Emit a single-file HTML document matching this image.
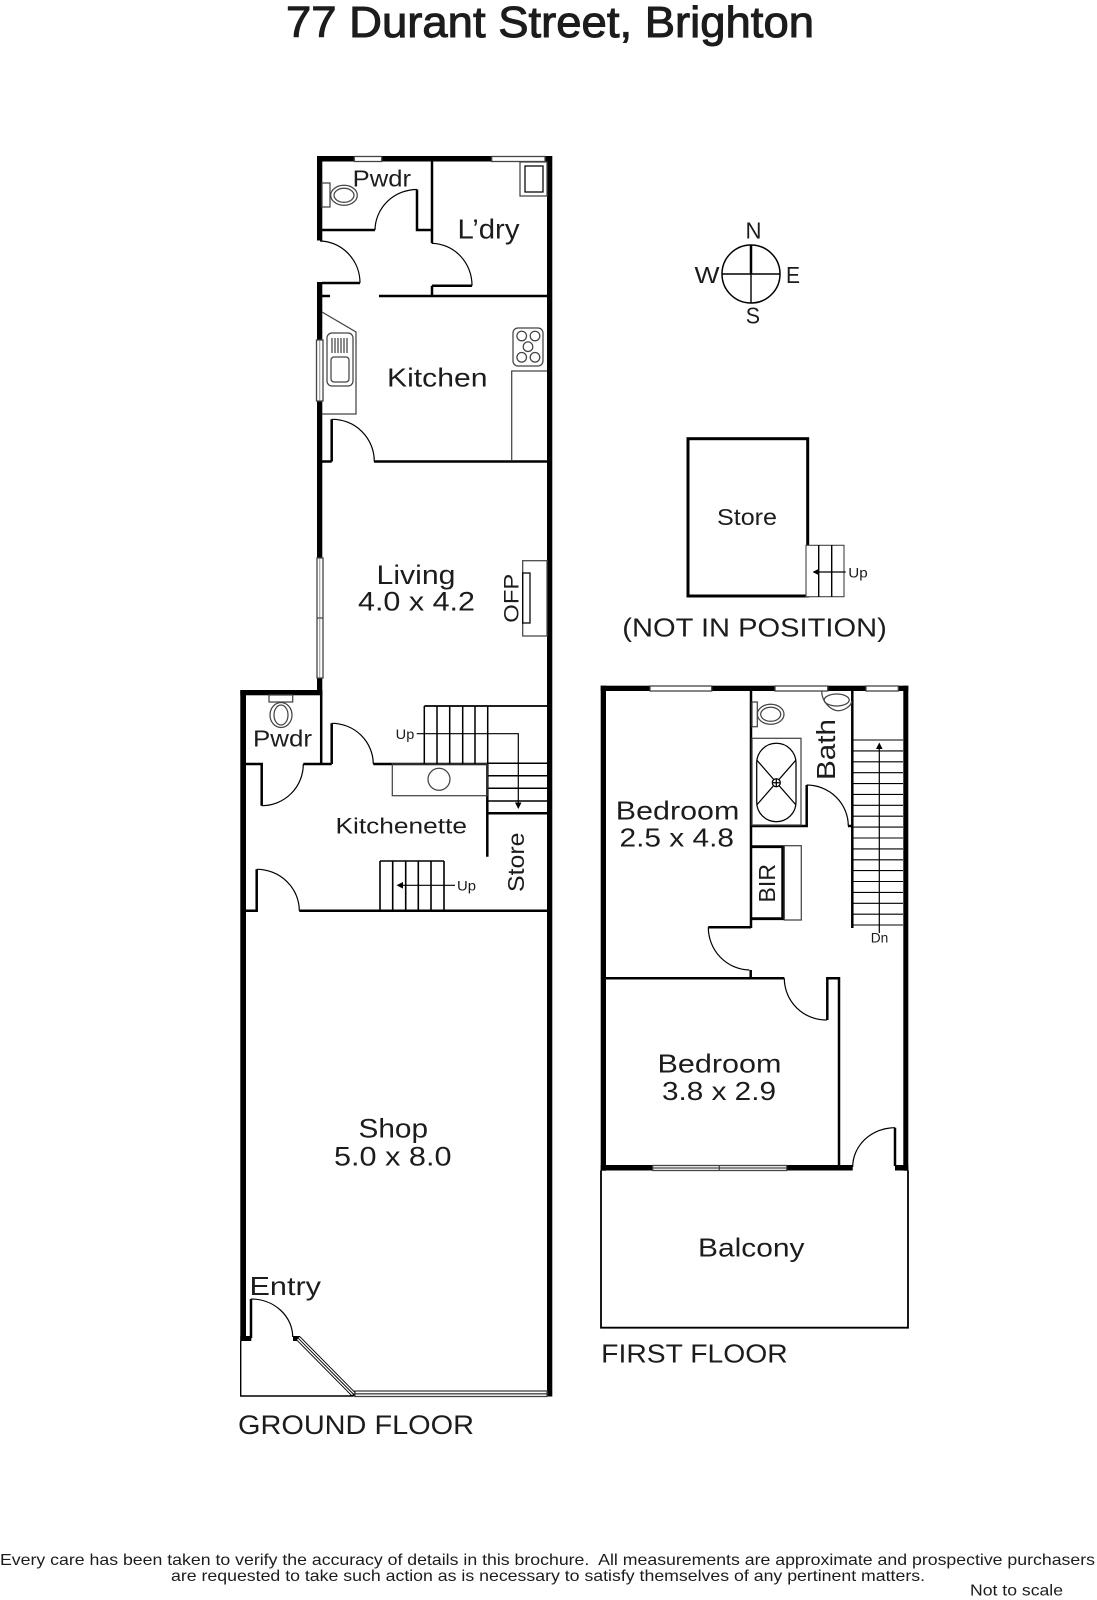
<!DOCTYPE html>
<html><head><meta charset="utf-8"><title>77 Durant Street, Brighton</title>
<style>
html,body{margin:0;padding:0;background:#fff;width:1097px;height:1600px;overflow:hidden}
svg{display:block}
text{font-family:"Liberation Sans",sans-serif;fill:#1c1c1c}
.w{fill:#000;stroke:none}
.l{fill:none;stroke:#000;stroke-width:1.2}
.m{fill:none;stroke:#000;stroke-width:2.5}
.g{fill:none;stroke:#444;stroke-width:1.25}
.win{fill:#fff;stroke:#444;stroke-width:1.3}
</style></head><body>
<svg width="1097" height="1600" viewBox="0 0 1097 1600" xmlns="http://www.w3.org/2000/svg">
<rect width="1097" height="1600" fill="#fff"/>

<text x="286" y="36.8" font-size="44" textLength="528" lengthAdjust="spacingAndGlyphs" stroke="#1c1c1c" stroke-width="1">77 Durant Street, Brighton</text>

<!-- GROUND FLOOR walls -->
<g class="w">
<rect x="317" y="156" width="235" height="5.5"/>
<rect x="317" y="156" width="5.3" height="84.5"/>
<rect x="317" y="282" width="5.3" height="408"/>
<rect x="547" y="156" width="5.3" height="1240.5"/>
<rect x="240.3" y="690" width="82" height="5.3"/>
<rect x="240.3" y="690" width="5.7" height="651"/>
<rect x="240.3" y="1336" width="11" height="5"/>
<rect x="293" y="1336" width="7" height="5"/>
<polygon points="351,1392 355,1390.5 355,1396.5 350,1396.5"/>
</g>
<g class="m">
<path d="M432 161V243M322 230H375M417 189.5V230H432"/>
<path d="M322 283H360M322 296H330M379 296H547M432 285.7H472M432 285.7V296"/>
<path d="M331.7 419.3V461.5M322 461.5H331.7M374 461.5H547"/>
<path d="M321.2 690V764H331.7M331.7 723.3V764M373.3 764H487M246 764H261.7V805.7M303.3 764H322"/>
<path d="M487.3 764V856.7M487.3 813.3H547"/>
<path d="M246 910.7H256.7V869.3M299.3 910.7H547"/>
<path d="M251 1299V1338"/>
</g>
<g class="l" stroke-width="1.3">
<path d="M375 230A42 41 0 0 1 417 189.5"/>
<path d="M320 241A41 42 0 0 1 360 283"/>
<path d="M431.7 243.3A41 42 0 0 1 472 285.7"/>
<path d="M331.7 419.3A42 42 0 0 1 374.3 461.7"/>
<path d="M331.7 723.3A41.5 41 0 0 1 373.3 764"/>
<path d="M261.7 805.7A41.5 41.5 0 0 0 303.3 764"/>
<path d="M256.7 869.3A42.5 41.5 0 0 1 299.3 910.7"/>
<path d="M251 1299A41.7 38 0 0 1 292.7 1337"/>
</g>

<!-- windows ground -->
<g class="win">
<rect x="354.3" y="156.5" width="27.4" height="5"/>
<rect x="491.7" y="156.5" width="53.3" height="5"/>
<rect x="316.5" y="340" width="6.5" height="61"/>
<rect x="317" y="558" width="6" height="120"/>
<path d="M317 618H323"/>
<rect x="355" y="1391" width="192" height="5.5"/>
<path d="M355 1393.8H547"/>
</g>
<path d="M319.8 340V401" stroke="#777" stroke-width=".8" fill="none"/>
<path d="M319.8 558V678" stroke="#777" stroke-width=".8" fill="none"/>
<path d="M298.3 1338.3L353.3 1394" stroke="#000" stroke-width="5.5"/>
<path d="M298.3 1338.3L353.3 1394" stroke="#fff" stroke-width="3.6"/>
<path d="M298.3 1338.3L353.3 1394" stroke="#000" stroke-width=".9"/>
<path d="M240.7 1341V1396H353" class="l" style="stroke-width:1.4"/>

<!-- fixtures ground -->
<g class="g">
<rect x="322" y="183" width="8" height="24"/>
<ellipse cx="344" cy="195.3" rx="13.3" ry="10"/>
<ellipse cx="344" cy="195.3" rx="10" ry="7"/>
<rect x="520" y="162" width="27" height="34"/>
<rect x="525" y="166" width="18" height="26" style="stroke:#000"/>
<path d="M322 312L356 332V414H322"/>
<rect x="327" y="333" width="26" height="53" rx="5"/>
<rect x="331" y="357" width="18" height="25" rx="3"/>
<path d="M332 338V353M335 338V353M338 338V353M341 338V353M344 338V353M347 338V353"/>
<rect x="513" y="328" width="30" height="38" rx="5"/>
<circle cx="521.7" cy="336" r="4.8"/><circle cx="535" cy="336" r="4.8"/><circle cx="528" cy="346.7" r="4.8"/><circle cx="521.7" cy="357.3" r="4.8"/><circle cx="535" cy="357.3" r="4.8"/>
<path d="M547 371H511.7V461"/>
<rect x="522.7" y="560.7" width="24.3" height="75.3"/>
<rect x="522.7" y="573" width="7.3" height="50" style="stroke:#000"/>
<rect x="269" y="695" width="23.7" height="7"/>
<ellipse cx="281" cy="715" rx="11" ry="12.5"/>
<ellipse cx="281" cy="715" rx="7" ry="10"/>
<rect x="392.3" y="764" width="94.7" height="31.7"/>
<circle cx="439" cy="779.3" r="11"/>
</g>

<!-- stairs ground -->
<path d="M424.3 706H547" class="m" style="stroke-width:1.8"/>
<path d="M424.3 706V764M437 706V764M449.7 706V764M462.7 706V764M475 706V764M487.7 706V764M488 763.3H547M488 775.7H547M488 788.3H547M488 801H547" class="l" style="stroke-width:1.5"/>
<path d="M416.7 733.7H518.3V806" class="l"/>
<polygon points="515,802.5 521.5,802.5 518.3,809"/>
<path d="M380 861H444M380 861V911M392.7 861V911M405.7 861V911M418.3 861V911M431 861V911M444 861V911" class="l" style="stroke-width:1.6"/>
<path d="M455 885.3H400" class="l"/>
<polygon points="396.5,885.3 403,882 403,888.6"/>

<!-- FIRST FLOOR walls -->
<g class="w">
<rect x="600.7" y="685.7" width="307.6" height="5.3"/>
<rect x="600.7" y="685.7" width="5.3" height="485"/>
<rect x="903.3" y="685.7" width="5" height="485"/>
<rect x="600.7" y="1165" width="252" height="5.5"/>
<rect x="895" y="1165" width="13.3" height="5.5"/>
</g>
<g class="m">
<path d="M751 691V928M708.3 927.3H751M750.7 970V978.3M606 978.3H784.3M827.3 1020V978.3H839V1165"/>
<path d="M852.3 691V928M752 826H806.7V785M848 826H852.3"/>
<path d="M751 846.7H782.7V918.7H751" style="stroke-width:2.8"/>
<path d="M895 1127.7V1166"/>
</g>
<g class="l" stroke-width="1.3">
<path d="M708.3 927.3A42 42.7 0 0 0 749.3 970"/>
<path d="M784.3 978.3A42 41.7 0 0 0 826.7 1020"/>
<path d="M806.7 785A41.7 41 0 0 1 848.3 826"/>
<path d="M852.7 1167A42.3 39.3 0 0 1 895 1127.7"/>
</g>
<g class="win">
<rect x="650" y="686" width="61.7" height="5"/>
<rect x="775" y="686" width="52.7" height="5"/>
<rect x="866" y="686" width="32.3" height="5"/>
<rect x="652.7" y="1165.5" width="134" height="5"/>
<path d="M652.7 1168H786.7M719.3 1165.5V1170.5"/>
</g>
<path d="M601 1170.5V1327.7H908V1170.5" class="l" style="stroke-width:1.8"/>
<g class="g">
<rect x="752" y="702" width="5.3" height="24.7"/>
<ellipse cx="770.7" cy="714.3" rx="13.3" ry="10"/>
<ellipse cx="770.7" cy="714.3" rx="10" ry="7"/>
<path d="M821.7 691C821.7 703 832 710.7 838 710.7C844 710.7 851.7 706 851.7 701"/>
<ellipse cx="836.7" cy="700" rx="12.5" ry="6"/>
<rect x="752" y="738.3" width="49" height="86.7"/>
<rect x="756.7" y="743.3" width="39.3" height="78.4" rx="19.6" style="stroke:#000"/>
<path d="M756.7 760L796 805M796 760L756.7 805" style="stroke:#000"/>
<circle cx="776.3" cy="782.7" r="4" style="stroke:#000;fill:#fff"/>
<path d="M772.3 782.7H780.3M776.3 778.7V786.7" style="stroke:#000"/>
<rect x="784.3" y="845.7" width="17" height="74.3"/>
</g>
<path d="M853 740H903M853 750.9H903M853 761.8H903M853 772.7H903M853 783.6H903M853 794.4H903M853 805.3H903M853 816.2H903M853 827.1H903M853 838H903M853 848.9H903M853 859.8H903M853 870.6H903M853 881.5H903M853 892.4H903M853 903.3H903M853 914.2H903M853 925H903" class="l" style="stroke-width:1.1"/>
<path d="M879.3 933V748" class="l"/>
<polygon points="879.3,742.5 876,749 882.6,749"/>

<!-- Store -->
<rect x="688" y="438.7" width="119.7" height="157.3" fill="none" stroke="#000" stroke-width="3"/>
<rect x="806" y="545.3" width="38" height="51.4" fill="#fff" stroke="#444" stroke-width="1.1"/>
<path d="M818.7 545.3V596.7M831.7 545.3V596.7" class="l" style="stroke-width:1.4"/>
<path d="M845.7 572H816" class="l"/>
<polygon points="812.5,572 819,568.7 819,575.3"/>

<!-- Compass -->
<circle cx="751" cy="274" r="29" class="l" style="stroke-width:1.5"/>
<path d="M722 274H780M751 245V303" class="l" style="stroke-width:1.4"/>
<path d="M751 245V274" class="m"/>

<!-- Labels -->
<g>
<text x="352.7" y="186.7" font-size="23.5" textLength="58.3" lengthAdjust="spacingAndGlyphs">Pwdr</text>
<text x="457.5" y="238.3" font-size="28" textLength="62" lengthAdjust="spacingAndGlyphs">L’dry</text>
<text x="387" y="386.7" font-size="26" textLength="100.5" lengthAdjust="spacingAndGlyphs">Kitchen</text>
<text x="376.5" y="584" font-size="26.5" textLength="79" lengthAdjust="spacingAndGlyphs">Living</text>
<text x="358" y="610.7" font-size="26.5" textLength="117" lengthAdjust="spacingAndGlyphs">4.0 x 4.2</text>
<text x="253" y="746.7" font-size="23.5" textLength="59" lengthAdjust="spacingAndGlyphs">Pwdr</text>
<text x="335.5" y="833.3" font-size="22.5" textLength="131.5" lengthAdjust="spacingAndGlyphs">Kitchenette</text>
<text x="395.7" y="739" font-size="13.5" textLength="18.6" lengthAdjust="spacingAndGlyphs">Up</text>
<text x="457" y="890.7" font-size="13.5" textLength="19" lengthAdjust="spacingAndGlyphs">Up</text>
<text x="358.5" y="1137.7" font-size="26.5" textLength="69.5" lengthAdjust="spacingAndGlyphs">Shop</text>
<text x="334" y="1165.7" font-size="26.5" textLength="117.5" lengthAdjust="spacingAndGlyphs">5.0 x 8.0</text>
<text x="249.5" y="1295" font-size="26" textLength="71.5" lengthAdjust="spacingAndGlyphs">Entry</text>
<text x="238" y="1434" font-size="26.5" textLength="236" lengthAdjust="spacingAndGlyphs">GROUND FLOOR</text>
<text transform="translate(518.5,622.7) rotate(-90)" font-size="21.5" textLength="49" lengthAdjust="spacingAndGlyphs">OFP</text>
<text transform="translate(524,892) rotate(-90)" font-size="23.5" textLength="59.5" lengthAdjust="spacingAndGlyphs">Store</text>
<text transform="translate(835,780) rotate(-90)" font-size="25.5" textLength="61" lengthAdjust="spacingAndGlyphs">Bath</text>
<text transform="translate(775,902.5) rotate(-90)" font-size="23" textLength="38.5" lengthAdjust="spacingAndGlyphs">BIR</text>
<text x="615.8" y="819.3" font-size="26" textLength="123.5" lengthAdjust="spacingAndGlyphs">Bedroom</text>
<text x="619.5" y="846.7" font-size="26" textLength="114.5" lengthAdjust="spacingAndGlyphs">2.5 x 4.8</text>
<text x="657.5" y="1072.7" font-size="26" textLength="124" lengthAdjust="spacingAndGlyphs">Bedroom</text>
<text x="662" y="1100" font-size="26" textLength="114" lengthAdjust="spacingAndGlyphs">3.8 x 2.9</text>
<text x="698" y="1256.7" font-size="26" textLength="106.5" lengthAdjust="spacingAndGlyphs">Balcony</text>
<text x="601.2" y="1362.7" font-size="26" textLength="186.5" lengthAdjust="spacingAndGlyphs">FIRST FLOOR</text>
<text x="870.7" y="942.3" font-size="14" textLength="17.6" lengthAdjust="spacingAndGlyphs">Dn</text>
<text x="717" y="525" font-size="23.5" textLength="60" lengthAdjust="spacingAndGlyphs">Store</text>
<text x="848.3" y="577.3" font-size="13.5" textLength="19.4" lengthAdjust="spacingAndGlyphs">Up</text>
<text x="622.3" y="636.7" font-size="26" textLength="264.5" lengthAdjust="spacingAndGlyphs">(NOT IN POSITION)</text>
<text x="745.5" y="238.5" font-size="23" textLength="16" lengthAdjust="spacingAndGlyphs">N</text>
<text x="694.5" y="283" font-size="23" textLength="25" lengthAdjust="spacingAndGlyphs">W</text>
<text x="786" y="283" font-size="23" textLength="14" lengthAdjust="spacingAndGlyphs">E</text>
<text x="745.7" y="323.5" font-size="23" textLength="14.3" lengthAdjust="spacingAndGlyphs">S</text>
<text x="0" y="1565" font-size="16" textLength="1095" lengthAdjust="spacingAndGlyphs" xml:space="preserve">Every care has been taken to verify the accuracy of details in this brochure.  All measurements are approximate and prospective purchasers</text>
<text x="171" y="1581" font-size="16" textLength="754" lengthAdjust="spacingAndGlyphs">are requested to take such action as is necessary to satisfy themselves of any pertinent matters.</text>
<text x="970" y="1595.7" font-size="16" textLength="93" lengthAdjust="spacingAndGlyphs">Not to scale</text>
</g>
</svg>
</body></html>
